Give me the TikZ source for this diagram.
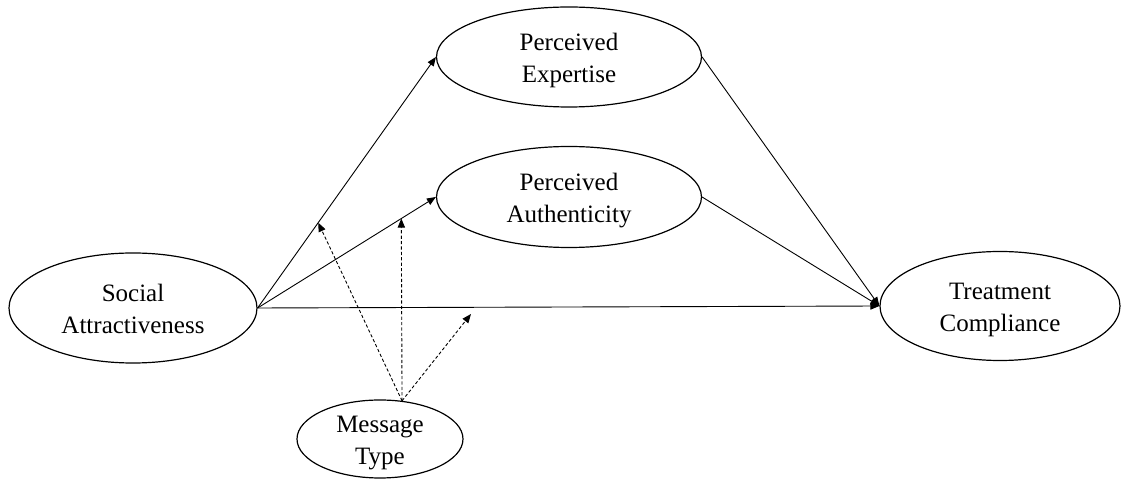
\documentclass[tikz,border=0pt]{standalone}
\usepackage{fontspec}
\setmainfont{Liberation Serif}
\usepackage{tikz}
\usetikzlibrary{
    shapes,
    shapes.geometric,
    positioning,
    calc,
    arrows.meta
}
\tikzset{
  construct/.style = {
      draw,
      ellipse,
      line width=0.6pt,
      inner sep=0pt,
      align=center,
      font=\fontsize{12.5}{16}\selectfont,
      text height=28.5pt,
      text depth=2.5pt
  },
  path arrow/.style = {
      draw,
      line width=0.45pt,
      -{Triangle[length=4.5pt,width=3.6pt]}
  },
  moderator arrow/.style = {
      path arrow,
      dash pattern=on 1.6pt off 1.1pt
  }
}

\begin{document}
\begin{tikzpicture}[x=0.5pt, y=-0.5pt]
    \useasboundingbox (0,0) rectangle (1121,480);
    % Nodes
    \node[construct, minimum width=124pt, minimum height=55pt] (social) at (133,308) {Social\\Attractiveness};
    \node[construct, minimum width=132.5pt, minimum height=50pt] (expertise) at (569,57) {Perceived\\Expertise};
    \node[construct, minimum width=132.5pt, minimum height=50.5pt] (authenticity) at (569,197) {Perceived\\Authenticity};
    \node[construct, minimum width=120pt, minimum height=54.5pt] (treatment) at (1000,306) {Treatment\\Compliance};
    \node[construct, inner ysep=-3pt, minimum width=83pt, minimum height=39pt] (message) at (380,439) {Message\\Type};
    % Moderation points
    \path (social.east) -- (expertise.west) coordinate[pos=0.34] (modexp);
    \path (social.east) -- (authenticity.west) coordinate[pos=0.806] (modauth);
    \coordinate (moddirect) at (471,314);
    % Edges
    \path[path arrow] (social.east) -- (expertise.west);
    \path[path arrow] (social.east) -- (authenticity.west);
    \path[path arrow] (social.east) -- (treatment.west);
    \path[path arrow] (expertise.east) -- (treatment.west);
    \path[path arrow] (authenticity.east) -- (treatment.west);
    % Moderator
    \path[moderator arrow] (message.60) -- (modexp);
    \path[moderator arrow] (message.60) -- (modauth);
    \path[moderator arrow] (message.60) -- (moddirect);
\end{tikzpicture}
\end{document}
